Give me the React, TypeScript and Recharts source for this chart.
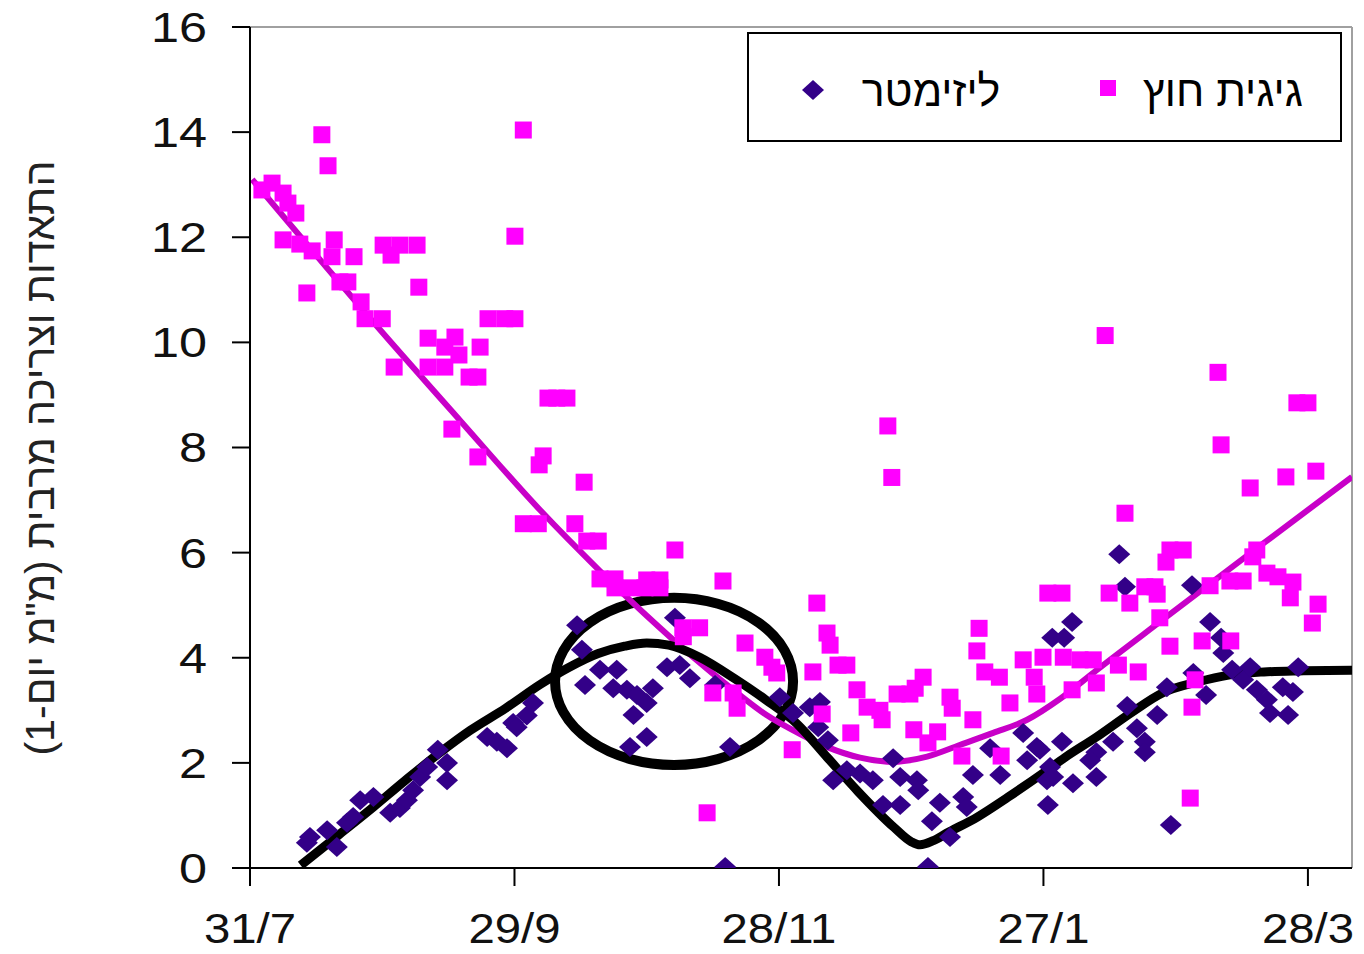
import React from 'react';
import {
  ComposedChart,
  Scatter,
  Line,
  XAxis,
  YAxis,
  ReferenceArea,
  ReferenceLine,
  Legend,
} from 'recharts';

// Days since 31/7
const panDays = [
  2.7, 5.0, 7.5, 8.6, 10.4, 7.5, 11.3, 14.1, 19.1, 18.6, 23.6, 12.9, 16.3, 17.7, 20.4, 22.2, 25.2, 26.1, 30.0, 30.2,
  34.0, 37.9, 32.0, 38.3, 40.4, 44.2, 46.5, 47.4, 52.2, 40.4, 44.2, 32.7, 49.7, 51.7, 45.8, 51.7, 54.0, 57.8, 60.1, 60.1,
  62.0, 62.0, 65.4, 66.5, 65.6, 67.6, 69.6, 71.9, 75.8, 73.7, 76.4, 79.0, 79.4, 82.8, 82.8, 86.2, 89.6, 93.0, 90.0, 93.0,
  96.4, 107.3, 98.2, 102.0, 98.3, 112.3, 116.8, 119.5, 105.0, 109.6, 110.5, 123.0, 103.7, 118.4, 128.6, 130.9, 131.6, 133.4, 135.4, 127.7,
  137.7, 140.0, 142.9, 143.4, 146.8, 149.7, 152.7, 150.9, 158.8, 159.3, 164.0, 165.4, 164.9, 166.7, 170.0, 175.4, 179.9, 177.9, 172.4, 178.5,
  150.6, 156.0, 136.3, 129.8, 153.8, 161.5, 170.4, 144.7, 145.6, 181.0, 184.2, 194.0, 219.6, 237.5, 240.0, 220.3, 226.9, 235.0, 241.8, 198.5,
  208.7, 211.7, 207.8, 228.4, 227.5, 230.7, 233.2, 236.6, 236.0, 242.3, 222.3, 225.3, 217.8, 194.9, 203.0, 205.3, 205.8, 199.6, 206.4, 208.7,
  216.0, 222.5, 241.0, 184.5, 188.3, 191.3, 197.0, 201.5, 192.0, 186.5, 213.7, 214.4, 213.3,
];
const panValues = [
  12.9, 13.03, 12.84, 12.65, 12.46, 11.95, 11.87, 11.74, 11.95, 11.63, 11.63, 10.94, 13.95, 13.36, 11.15, 11.15, 10.77, 10.45, 10.45, 11.85,
  11.85, 11.85, 11.66, 11.05, 10.08, 9.91, 10.1, 9.76, 9.91, 9.53, 9.53, 9.53, 9.34, 9.34, 8.35, 7.82, 10.45, 10.45, 10.45, 12.02,
  14.04, 6.55, 6.55, 7.84, 7.67, 8.94, 8.94, 8.94, 7.34, 6.55, 6.22, 6.22, 5.5, 5.5, 5.33, 5.33, 5.33, 5.33, 5.48, 5.48,
  6.05, 5.46, 4.57, 4.57, 4.4, 4.28, 4.01, 3.71, 3.33, 3.33, 3.04, 2.25, 1.05, 3.82, 5.04, 4.47, 4.24, 3.86, 3.86, 3.73,
  3.39, 3.06, 3.0, 2.82, 3.31, 3.31, 3.63, 3.42, 3.25, 3.04, 2.82, 4.56, 4.13, 3.73, 3.63, 3.96, 4.01, 3.63, 3.14, 3.31,
  2.63, 2.59, 2.57, 2.93, 2.38, 2.13, 2.13, 8.41, 7.43, 5.23, 5.23, 10.13, 9.43, 8.85, 8.85, 8.05, 7.23, 7.44, 7.55, 6.75,
  6.05, 6.05, 5.82, 6.05, 5.92, 5.61, 5.54, 5.44, 5.14, 5.02, 5.46, 5.46, 5.37, 5.23, 5.35, 5.35, 5.21, 5.04, 4.76, 4.22,
  4.32, 4.32, 4.66, 4.01, 3.96, 3.96, 3.86, 3.73, 3.52, 3.39, 3.06, 3.58, 1.33,
];

const lysDays = [
  12.9, 13.6, 17.5, 19.7, 22.0, 23.4, 25.0, 28.0, 31.8, 34.0, 35.6, 37.0, 38.6, 40.2, 42.6, 44.7, 44.7, 53.8, 56.0, 58.3,
  59.7, 60.5, 62.8, 64.2, 74.2, 75.3, 79.4, 83.2, 76.0, 82.4, 85.5, 87.8, 91.4, 90.0, 87.0, 90.0, 86.2, 94.6, 97.5, 99.8,
  96.4, 105.5, 108.9, 107.8, 120.2, 123.2, 127.0, 129.3, 128.9, 131.1, 132.3, 135.4, 138.4, 141.3, 143.6, 145.9, 147.5, 151.3, 151.6, 147.5,
  154.7, 156.5, 158.8, 161.8, 162.6, 153.8, 164.0, 167.9, 170.2, 175.4, 178.5, 176.3, 181.5, 180.8, 181.0, 182.0, 186.5, 184.7, 217.8, 220.3,
  220.8, 199.0, 208.0, 205.8, 201.2, 203.0, 203.0, 195.8, 192.0, 190.6, 184.2, 179.2, 182.2, 186.7, 192.0, 208.9, 214.0, 216.9, 222.8, 225.3,
  226.9, 228.4, 230.7, 231.4, 234.3, 236.6, 237.8, 235.5, 197.2, 198.5, 213.7,
];
const lysValues = [
  0.48, 0.59, 0.72, 0.4, 0.86, 0.97, 1.29, 1.35, 1.05, 1.14, 1.29, 1.48, 1.73, 1.92, 2.25, 2.0, 1.67, 2.49, 2.4, 2.28,
  2.76, 2.68, 2.9, 3.14, 4.62, 4.15, 3.77, 3.77, 3.48, 3.42, 3.39, 3.29, 3.42, 3.14, 2.91, 2.49, 2.3, 3.82, 3.86, 3.61,
  4.76, 3.48, 2.3, 0.02, 3.25, 2.95, 3.06, 3.16, 2.68, 2.43, 1.67, 1.86, 1.8, 1.67, 1.2, 2.09, 1.73, 1.67, 1.48, 1.2,
  0.89, 1.24, 0.59, 1.35, 1.16, 0.02, 1.77, 2.28, 1.77, 2.57, 2.3, 2.05, 1.92, 1.67, 1.2, 4.38, 4.68, 4.38, 4.68, 4.38,
  4.09, 3.08, 3.44, 2.91, 2.66, 2.4, 2.2, 2.4, 2.2, 2.05, 2.4, 2.25, 1.73, 1.61, 1.73, 0.82, 3.71, 3.29, 3.77, 3.58,
  3.82, 3.39, 3.2, 2.95, 3.44, 3.35, 3.82, 2.91, 5.97, 5.35, 5.38,
];

const panTrendDays = [0.5, 29.5, 47.6, 65.8, 79.4, 90, 100, 109.6, 117, 124.8, 131, 138.4, 145.9, 153.6, 161, 168.6, 176.3, 183.8, 192, 207, 229.8, 250];
const panTrendValues = [13.1, 10.24, 8.52, 6.81, 5.65, 4.8, 4.05, 3.39, 2.92, 2.55, 2.3, 2.1, 2.02, 2.12, 2.34, 2.57, 2.82, 3.22, 3.76, 4.72, 6.17, 7.44];

const lysTrendDays = [11.5, 20, 28, 35, 43, 50, 58, 66, 72, 79, 85, 90, 95, 102, 110, 117, 124, 131, 138, 146, 150, 152, 155, 158, 165, 172, 180, 185, 192, 200, 207, 215, 222, 230, 238, 250];
const lysTrendValues = [0.05, 0.62, 1.16, 1.65, 2.19, 2.62, 3.04, 3.5, 3.8, 4.08, 4.22, 4.28, 4.24, 4.01, 3.6, 3.2, 2.75, 2.1, 1.45, 0.78, 0.5, 0.44, 0.52, 0.66, 0.97, 1.35, 1.81, 2.11, 2.49, 2.96, 3.33, 3.54, 3.67, 3.73, 3.75, 3.76];

const xTicks = [0, 60, 120, 180, 240];
const xTickLabels = ['31/7', '29/9', '28/11', '27/1', '28/3'];
const yTicks = [0, 2, 4, 6, 8, 10, 12, 14, 16];
const seriesNames = ['גיגית חוץ', 'ליזימטר'];
const yAxisTitle = 'התאדות וצריכה מרבית (מ"מ יום-1)';
// highlighted region (ellipse), in data units
const highlightX = [69.2, 123.2];
const highlightY = [1.96, 5.14];

const panData = panDays.map((x, i) => ({ x, y: panValues[i] }));
const lysData = lysDays.map((x, i) => ({ x, y: lysValues[i] }));
const panTrend = panTrendDays.map((x, i) => ({ x, y: panTrendValues[i] }));
const lysTrend = lysTrendDays.map((x, i) => ({ x, y: lysTrendValues[i] }));

const FONT = '"Liberation Sans", Arial, Helvetica, sans-serif';
const MAGENTA = '#FF00FF';
const PURPLE = '#330088';

const SquareShape = (props: any) => {
  const { cx, cy } = props;
  if (cx == null || cy == null) return null;
  return <rect x={cx - 8.5} y={cy - 8.5} width={17} height={17} fill={MAGENTA} />;
};

const DiamondShape = (props: any) => {
  const { cx, cy } = props;
  if (cx == null || cy == null) return null;
  return (
    <polygon
      points={`${cx},${cy - 10} ${cx + 11},${cy} ${cx},${cy + 10} ${cx - 11},${cy}`}
      fill={PURPLE}
    />
  );
};

const EllipseShape = (props: any) => {
  const { x, y, width, height } = props;
  return (
    <ellipse
      cx={x + width / 2}
      cy={y + height / 2}
      rx={width / 2}
      ry={height / 2}
      fill="none"
      stroke="#000"
      strokeWidth={10}
    />
  );
};

const XTick = (props: any) => {
  const { x, y, payload } = props;
  const label = xTickLabels[xTicks.indexOf(payload.value)] ?? '';
  return (
    <text
      transform={`translate(${x}, ${y}) scale(1.1, 1)`}
      textAnchor="middle"
      dy="0.71em"
      fontSize={43}
      fontFamily={FONT}
      fill="#111"
    >
      {label}
    </text>
  );
};

const YTick = (props: any) => {
  const { x, y, payload } = props;
  return (
    <text
      transform={`translate(${x}, ${y}) scale(1.2, 1)`}
      textAnchor="end"
      dy="0.355em"
      fontSize={42}
      fontFamily={FONT}
      fill="#111"
    >
      {payload.value}
    </text>
  );
};

const LegendBox = () => (
  <svg width={595} height={110} style={{ display: 'block' }}>
    <rect x={1} y={1} width={593} height={108} fill="#fff" stroke="#000" strokeWidth={2} />
    <polygon points="66,48 77,58 66,68 55,58" fill={PURPLE} />
    <text x={184} y={74} textAnchor="middle" fontSize={43} fontFamily={FONT} fill="#000" direction="rtl">
      {seriesNames[1]}
    </text>
    <rect x={353} y={48} width={16} height={16} fill={MAGENTA} />
    <text x={476} y={74} textAnchor="middle" fontSize={43} fontFamily={FONT} fill="#000" direction="rtl">
      {seriesNames[0]}
    </text>
  </svg>
);

const YTitle = () => (
  <text
    x={32}
    y={458}
    transform="rotate(-90, 32, 458)"
    textAnchor="middle"
    dominantBaseline="central"
    fontSize={41}
    fontFamily={FONT}
    fill="#222"
  >
    {yAxisTitle}
  </text>
);

export default function App() {
  return (
    <div style={{ position: 'relative', width: 1356, height: 954, marginTop: -8 }}>
      <ComposedChart width={1356} height={954} margin={{ top: 27, right: 12, bottom: 6, left: 0 }}>
        <XAxis
          dataKey="x"
          type="number"
          domain={[0, 250]}
          ticks={xTicks}
          interval={0}
          allowDataOverflow
          height={80}
          tickSize={18}
          tickMargin={26}
          axisLine={{ stroke: '#000', strokeWidth: 2 }}
          tickLine={{ stroke: '#000', strokeWidth: 2 }}
          tick={<XTick />}
        />
        <YAxis
          dataKey="y"
          type="number"
          domain={[0, 16]}
          ticks={yTicks}
          interval={0}
          allowDataOverflow
          width={242}
          tickSize={18}
          tickMargin={25}
          axisLine={{ stroke: '#000', strokeWidth: 2 }}
          tickLine={{ stroke: '#000', strokeWidth: 2 }}
          tick={<YTick />}
          label={{ content: () => <YTitle /> }}
        />
        <ReferenceLine y={16} stroke="#a0a0a0" strokeWidth={2} />
        <ReferenceLine x={250} stroke="#a0a0a0" strokeWidth={2} />
        <Scatter name={seriesNames[1]} data={lysData} dataKey="y" shape={DiamondShape} isAnimationActive={false} />
        <Scatter name={seriesNames[0]} data={panData} dataKey="y" shape={SquareShape} isAnimationActive={false} />
        <Line
          data={panTrend}
          dataKey="y"
          type="monotone"
          stroke="#C800C8"
          strokeWidth={6}
          dot={false}
          activeDot={false}
          legendType="none"
          isAnimationActive={false}
        />
        <Line
          data={lysTrend}
          dataKey="y"
          type="monotone"
          stroke="#000"
          strokeWidth={9}
          dot={false}
          activeDot={false}
          legendType="none"
          isAnimationActive={false}
        />
        <ReferenceArea
          x1={highlightX[0]}
          x2={highlightX[1]}
          y1={highlightY[0]}
          y2={highlightY[1]}
          shape={EllipseShape}
        />
        <Legend
          layout="vertical"
          align="center"
          verticalAlign="middle"
          wrapperStyle={{ position: 'absolute', left: 739, top: 32, width: 595, height: 110 }}
          content={() => <LegendBox />}
        />
      </ComposedChart>
    </div>
  );
}
